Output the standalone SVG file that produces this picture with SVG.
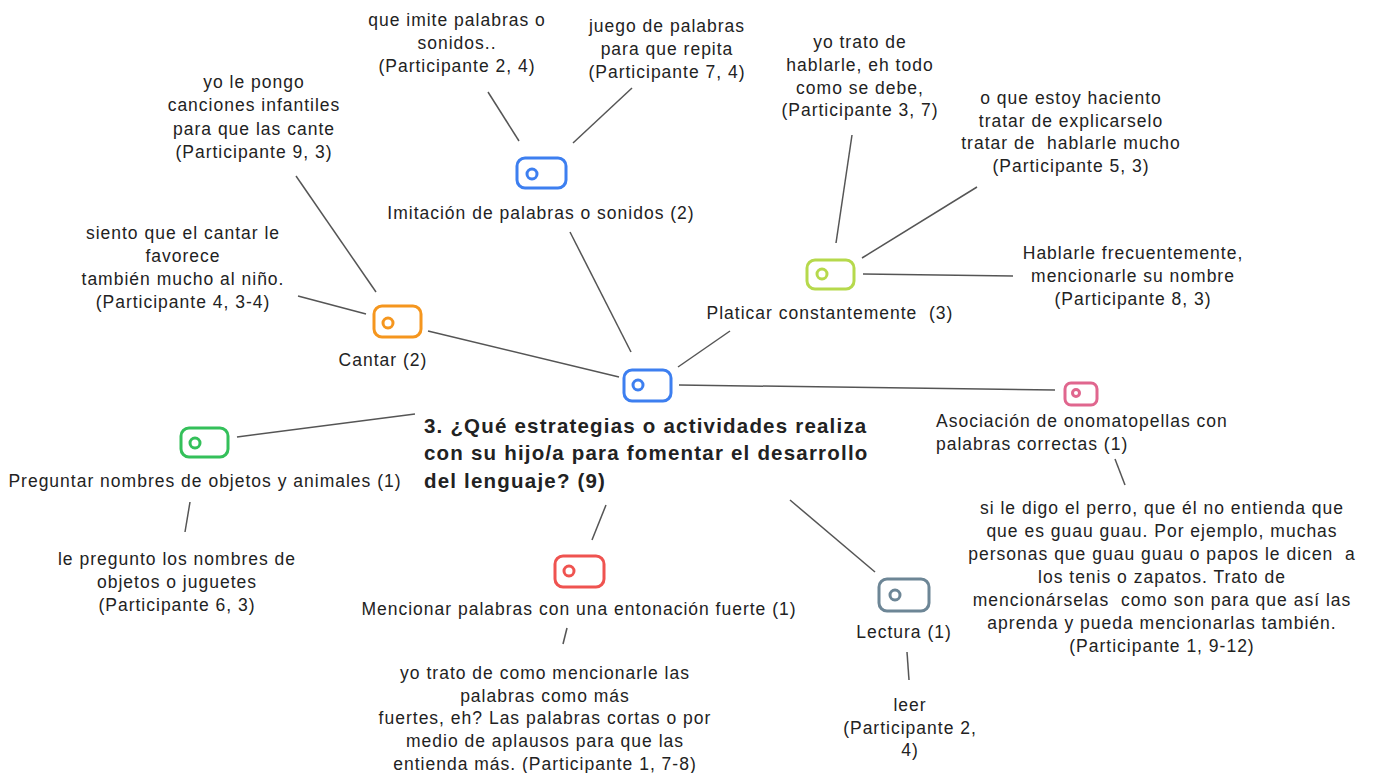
<svg xmlns="http://www.w3.org/2000/svg" width="1377" height="773" viewBox="0 0 1377 773">
<style>
text{font-family:"Liberation Sans",Arial,sans-serif;font-size:17.5px;letter-spacing:1px;fill:#222;}
.c{text-anchor:middle;}
.t{font-weight:bold;font-size:20.5px;letter-spacing:1.2px;}
.ic{fill:#fff;stroke-width:3;}
#connectors line{stroke:#555;stroke-width:1.5;}
</style>
<rect width="1377" height="773" fill="#fff"/>
<g id="connectors">
<line x1="488" y1="92" x2="519" y2="141"/>
<line x1="632" y1="88" x2="573" y2="143"/>
<line x1="296" y1="176" x2="376" y2="292"/>
<line x1="298" y1="296" x2="366" y2="314"/>
<line x1="570" y1="232" x2="631" y2="352"/>
<line x1="428" y1="331" x2="619" y2="377"/>
<line x1="678" y1="367" x2="730" y2="331"/>
<line x1="852" y1="135" x2="836" y2="243"/>
<line x1="977" y1="187" x2="862" y2="258"/>
<line x1="863" y1="274" x2="1013" y2="276"/>
<line x1="679" y1="385" x2="1055" y2="390"/>
<line x1="1115" y1="459" x2="1125" y2="485"/>
<line x1="415" y1="414" x2="237" y2="437"/>
<line x1="190" y1="502" x2="185" y2="532"/>
<line x1="606" y1="505" x2="592" y2="540"/>
<line x1="790" y1="500" x2="875" y2="572"/>
<line x1="567" y1="628" x2="563" y2="644"/>
<line x1="907" y1="652" x2="909" y2="680"/>
</g>
<g id="root">
<rect class="ic" x="624" y="370" width="47" height="31" rx="8" stroke="#3d7ff0"/>
<circle class="ic" cx="638" cy="385" r="5" stroke="#3d7ff0"/>
<text class="t"><tspan x="424" y="433">3. ¿Qué estrategias o actividades realiza</tspan><tspan x="424" y="460">con su hijo/a para fomentar el desarrollo</tspan><tspan x="424" y="488">del lenguaje? (9)</tspan></text>
</g>
<g id="imitacion">
<rect class="ic" x="517" y="158" width="49" height="30" rx="8" stroke="#3d7ff0"/>
<circle class="ic" cx="532" cy="174" r="5" stroke="#3d7ff0"/>
<text class="c" x="541" y="219">Imitación de palabras o sonidos (2)</text>
</g>
<g id="q-imite">
<text class="c"><tspan x="457" y="26">que imite palabras o</tspan><tspan x="457" y="49">sonidos..</tspan><tspan x="457" y="72">(Participante 2, 4)</tspan></text>
</g>
<g id="q-juego">
<text class="c"><tspan x="667" y="32">juego de palabras</tspan><tspan x="667" y="55">para que repita</tspan><tspan x="667" y="78">(Participante 7, 4)</tspan></text>
</g>
<g id="cantar">
<rect class="ic" x="374" y="306" width="47" height="31" rx="8" stroke="#f5961e"/>
<circle class="ic" cx="388" cy="323" r="5" stroke="#f5961e"/>
<text class="c" x="383" y="366">Cantar (2)</text>
</g>
<g id="q-pongo">
<text class="c"><tspan x="254" y="88">yo le pongo</tspan><tspan x="254" y="111">canciones infantiles</tspan><tspan x="254" y="135">para que las cante</tspan><tspan x="254" y="158">(Participante 9, 3)</tspan></text>
</g>
<g id="q-siento">
<text class="c"><tspan x="183" y="239">siento que el cantar le</tspan><tspan x="183" y="262">favorece</tspan><tspan x="183" y="285">también mucho al niño.</tspan><tspan x="183" y="308">(Participante 4, 3-4)</tspan></text>
</g>
<g id="platicar">
<rect class="ic" x="807" y="260" width="47" height="29" rx="8" stroke="#b6d94c"/>
<circle class="ic" cx="822" cy="274" r="5" stroke="#b6d94c"/>
<text class="c" x="830" y="319" xml:space="preserve">Platicar constantemente  (3)</text>
</g>
<g id="q-trato">
<text class="c"><tspan x="860" y="48">yo trato de</tspan><tspan x="860" y="71">hablarle, eh todo</tspan><tspan x="860" y="94">como se debe,</tspan><tspan x="860" y="116">(Participante 3, 7)</tspan></text>
</g>
<g id="q-estoy">
<text class="c" xml:space="preserve"><tspan x="1071" y="104">o que estoy haciento</tspan><tspan x="1071" y="127">tratar de explicarselo</tspan><tspan x="1071" y="149">tratar de  hablarle mucho</tspan><tspan x="1071" y="172">(Participante 5, 3)</tspan></text>
</g>
<g id="q-hablarle">
<text class="c"><tspan x="1133" y="259">Hablarle frecuentemente,</tspan><tspan x="1133" y="282">mencionarle su nombre</tspan><tspan x="1133" y="305">(Participante 8, 3)</tspan></text>
</g>
<g id="asociacion">
<rect class="ic" x="1065" y="383" width="32" height="22" rx="6" stroke="#e0668e" stroke-width="2.5"/>
<circle class="ic" cx="1076" cy="393" r="3.5" stroke="#e0668e" stroke-width="2.5"/>
<text><tspan x="936" y="427">Asociación de onomatopellas con</tspan><tspan x="936" y="450">palabras correctas (1)</tspan></text>
</g>
<g id="q-perro">
<text class="c" xml:space="preserve"><tspan x="1162" y="514">si le digo el perro, que él no entienda que</tspan><tspan x="1162" y="537">que es guau guau. Por ejemplo, muchas</tspan><tspan x="1162" y="560">personas que guau guau o papos le dicen  a</tspan><tspan x="1162" y="583">los tenis o zapatos. Trato de</tspan><tspan x="1162" y="606">mencionárselas  como son para que así las</tspan><tspan x="1162" y="629">aprenda y pueda mencionarlas también.</tspan><tspan x="1162" y="652">(Participante 1, 9-12)</tspan></text>
</g>
<g id="preguntar">
<rect class="ic" x="181" y="428" width="47" height="29" rx="8" stroke="#34c05a"/>
<circle class="ic" cx="195" cy="443" r="5" stroke="#34c05a"/>
<text class="c" x="205" y="487">Preguntar nombres de objetos y animales (1)</text>
</g>
<g id="q-pregunto">
<text class="c"><tspan x="177" y="565">le pregunto los nombres de</tspan><tspan x="177" y="588">objetos o juguetes</tspan><tspan x="177" y="611">(Participante 6, 3)</tspan></text>
</g>
<g id="mencionar">
<rect class="ic" x="555" y="556" width="49" height="31" rx="8" stroke="#ef5350"/>
<circle class="ic" cx="569" cy="571" r="5" stroke="#ef5350"/>
<text class="c" x="579" y="615">Mencionar palabras con una entonación fuerte (1)</text>
</g>
<g id="q-como">
<text class="c"><tspan x="545" y="679">yo trato de como mencionarle las</tspan><tspan x="545" y="702">palabras como más</tspan><tspan x="545" y="724">fuertes, eh? Las palabras cortas o por</tspan><tspan x="545" y="747">medio de aplausos para que las</tspan><tspan x="545" y="770">entienda más. (Participante 1, 7-8)</tspan></text>
</g>
<g id="lectura">
<rect class="ic" x="879" y="579" width="50" height="32" rx="8" stroke="#6d8696"/>
<circle class="ic" cx="895" cy="595" r="5" stroke="#6d8696"/>
<text class="c" x="904" y="638">Lectura (1)</text>
</g>
<g id="q-leer">
<text class="c"><tspan x="910" y="711">leer</tspan><tspan x="910" y="734">(Participante 2,</tspan><tspan x="910" y="756">4)</tspan></text>
</g>
</svg>
